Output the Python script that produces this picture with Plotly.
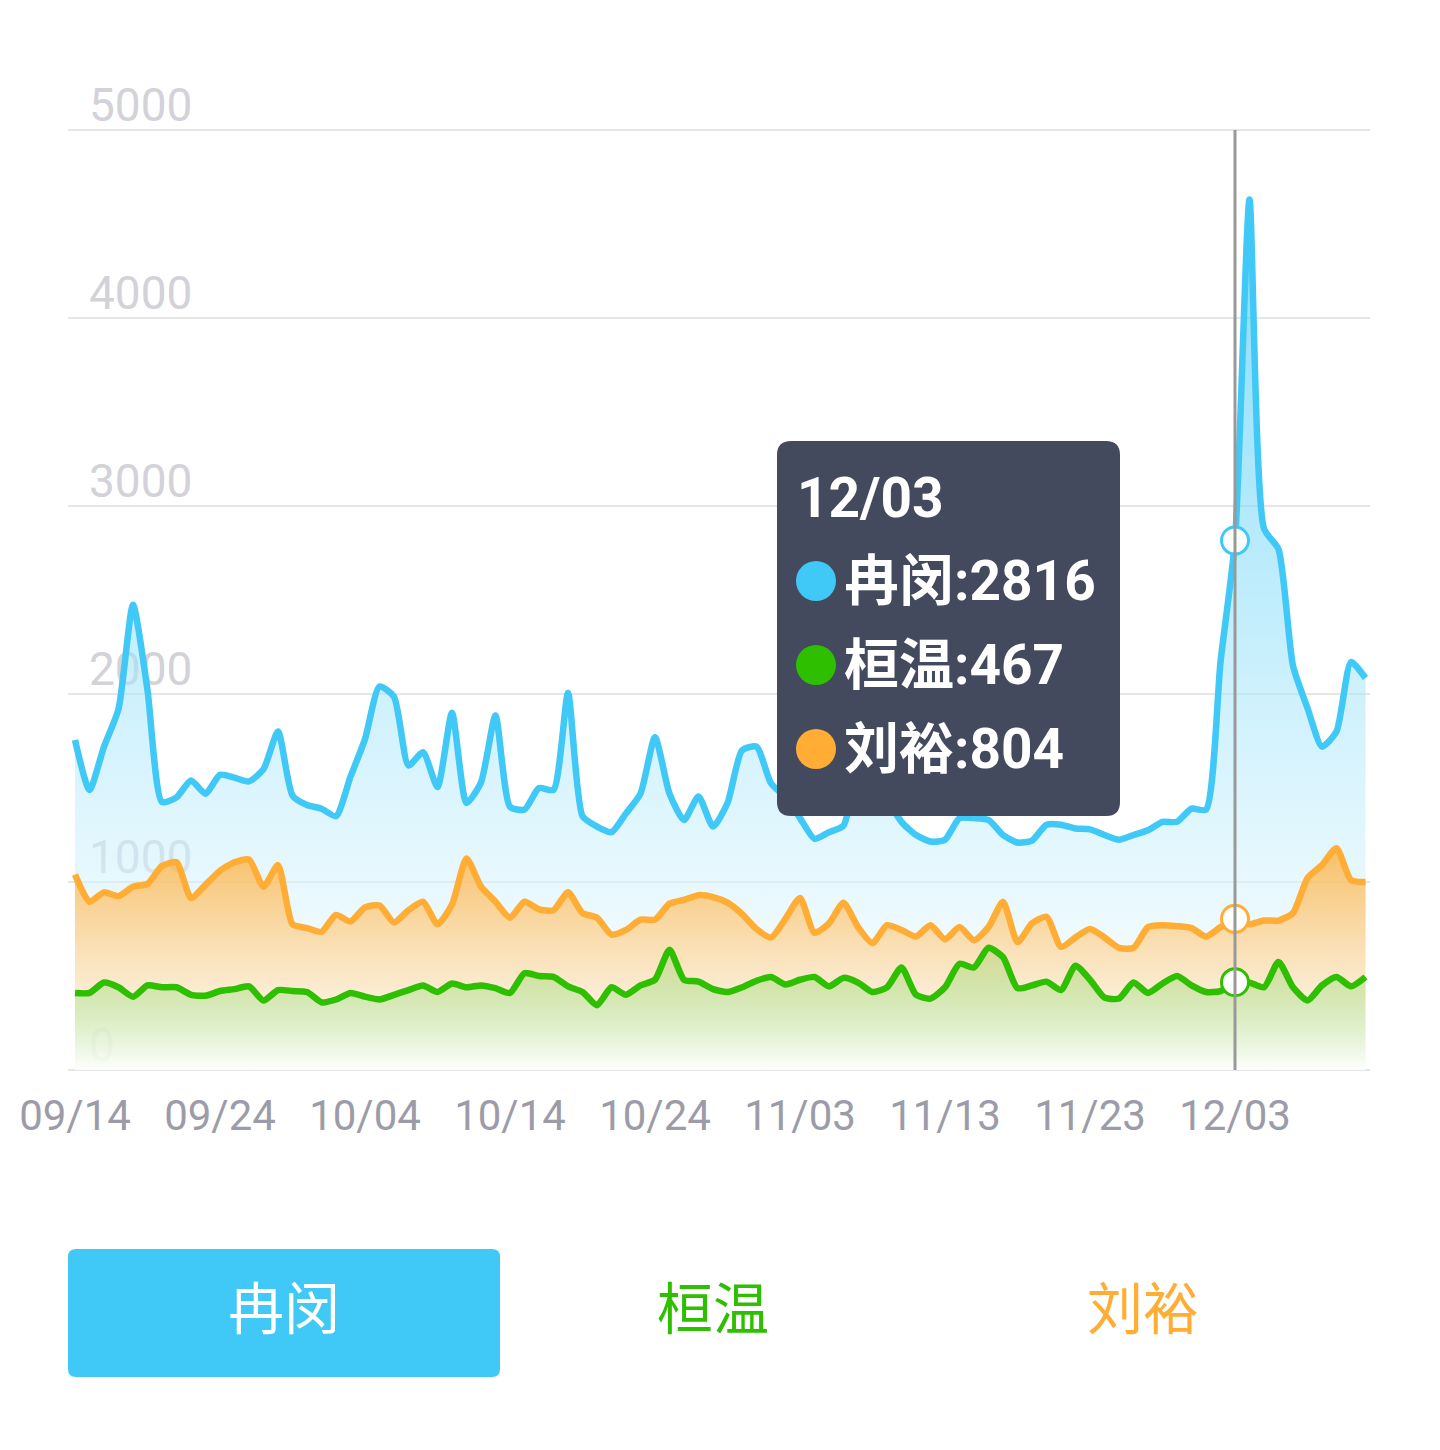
import pandas as pd
import plotly.graph_objects as go

# ---------------- data ----------------
start_date = "2018-09-14"
n_days = 90
dates = pd.date_range(start_date, periods=n_days, freq="D")

names = ["冉闵", "桓温", "刘裕"]

ranmin = [1755, 1490, 1720, 1920, 2475, 2020, 1425, 1450, 1540, 1470,
          1570, 1555, 1535, 1600, 1800, 1460, 1410, 1390, 1350, 1560,
          1760, 2040, 1985, 1620, 1690, 1505, 1900, 1420, 1530, 1885,
          1400, 1385, 1500, 1490, 2005, 1350, 1295, 1265, 1365, 1470,
          1770, 1470, 1330, 1455, 1295, 1420, 1700, 1720, 1525, 1450,
          1340, 1230, 1265, 1300, 1580, 1620, 1450, 1320, 1250, 1215,
          1225, 1340, 1340, 1330, 1250, 1210, 1220, 1305, 1305, 1285,
          1280, 1250, 1225, 1250, 1275, 1320, 1320, 1390, 1385, 2170,
          2816, 4630, 2880, 2770, 2150, 1925, 1720, 1800, 2170, 2085]

huanwen = [410, 410, 465, 440, 390, 450, 440, 440, 400, 395,
           420, 430, 445, 370, 425, 420, 415, 360, 375, 410,
           390, 375, 400, 425, 450, 415, 460, 440, 450, 435,
           410, 515, 500, 495, 445, 415, 345, 440, 400, 450,
           480, 640, 480, 470, 430, 415, 440, 475, 495, 455,
           480, 495, 445, 490, 465, 415, 440, 545, 400, 380,
           440, 565, 545, 650, 600, 435, 450, 470, 425, 555,
           480, 385, 380, 465, 410, 460, 500, 450, 415, 420,
           467, 465, 440, 575, 440, 370, 450, 495, 445, 495]

liuyu = [1040, 895, 945, 925, 975, 990, 1085, 1105, 915, 985,
         1060, 1105, 1120, 975, 1090, 775, 755, 735, 825, 790,
         865, 875, 785, 850, 895, 775, 880, 1125, 975, 895,
         810, 895, 855, 850, 945, 835, 810, 720, 745, 800,
         800, 885, 905, 930, 920, 890, 830, 750, 705, 805,
         915, 730, 780, 890, 760, 675, 770, 745, 710, 770,
         695, 760, 690, 760, 895, 680, 780, 815, 655, 705,
         750, 705, 650, 650, 760, 770, 765, 755, 710, 760,
         804, 775, 795, 795, 835, 1020, 1090, 1180, 1010, 1000]

y_ticks = [0, 1000, 2000, 3000, 4000, 5000]
x_tick_idx = [0, 10, 20, 30, 40, 50, 60, 70, 80]
hover_idx = 80

# ---------------- style / layout geometry ----------------
BLUE = "#40c8f6"
GREEN = "#2ebf00"
ORANGE = "#ffad35"
FONT = "Roboto, 'Noto Sans CJK SC', sans-serif"
W, H = 1440, 1450
OFF = 8                      # page body margin
PL, PR, PT, PB = 68, 1370, 128, 1072
Y_TOP_PX, Y_BOT_PX = 130, 1070
X0_PX, DAY_PX = 75, 14.5

px_per_unit = (Y_BOT_PX - Y_TOP_PX) / y_ticks[-1]
y_range = [(Y_BOT_PX - PB) / px_per_unit, (Y_BOT_PX - PT) / px_per_unit]
x_range = [dates[0] + pd.Timedelta(days=(PL - X0_PX) / DAY_PX),
           dates[-1] + pd.Timedelta(days=(PR - (X0_PX + DAY_PX * (n_days - 1))) / DAY_PX)]


def px(x):
    return (x - PL) / (PR - PL)


def py(y):
    return (PB - y) / (PB - PT)


def rrect(x0, y0, x1, y1, r):
    pts = [
        f"M {px(x0 + r)},{py(y0)}",
        f"L {px(x1 - r)},{py(y0)}",
        f"Q {px(x1)},{py(y0)} {px(x1)},{py(y0 + r)}",
        f"L {px(x1)},{py(y1 - r)}",
        f"Q {px(x1)},{py(y1)} {px(x1 - r)},{py(y1)}",
        f"L {px(x0 + r)},{py(y1)}",
        f"Q {px(x0)},{py(y1)} {px(x0)},{py(y1 - r)}",
        f"L {px(x0)},{py(y0 + r)}",
        f"Q {px(x0)},{py(y0)} {px(x0 + r)},{py(y0)}",
        "Z",
    ]
    return " ".join(pts)


def rgba(hexc, a):
    h = hexc.lstrip("#")
    r, g, b = int(h[0:2], 16), int(h[2:4], 16), int(h[4:6], 16)
    return f"rgba({r},{g},{b},{a})"


fig = go.Figure()

# (name, values, colour, top alpha, bottom white alpha)
series = [
    (names[0], ranmin, BLUE, 0.65, 0.55),
    (names[2], liuyu, ORANGE, 0.75, 0.55),
    (names[1], huanwen, GREEN, 0.16, 0.55),
]

for name, vals, col, a, wa in series:
    fig.add_trace(go.Scatter(
        x=dates, y=vals, name=name, mode="lines",
        line=dict(color=col, width=6.5, shape="spline", smoothing=0.6),
        fill="tozeroy",
        fillgradient=dict(
            type="vertical",
            colorscale=[[0, f"rgba(255,255,255,{wa})"], [1, rgba(col, a)]],
        ),
        hoverinfo="skip",
    ))

for name, vals, col, a, wa in series:
    fig.add_trace(go.Scatter(
        x=[dates[hover_idx]], y=[vals[hover_idx]], mode="markers",
        marker=dict(size=27, color="white", line=dict(color=col, width=3)),
        hoverinfo="skip", showlegend=False,
    ))

shapes = []
shapes.append(dict(type="line", xref="x", yref="y",
                   x0=dates[hover_idx], x1=dates[hover_idx], y0=y_ticks[0], y1=y_ticks[-1],
                   line=dict(color="#999999", width=3), layer="above"))
shapes.append(dict(type="path", xref="paper", yref="paper",
                   path=rrect(777, 441, 1120, 816, 14),
                   fillcolor="#434a5d", line=dict(width=0), layer="above"))
dot_cols = [BLUE, GREEN, ORANGE]
row_y = [581, 665, 749]
for c, yy in zip(dot_cols, row_y):
    shapes.append(dict(type="circle", xref="paper", yref="paper",
                       x0=px(796), x1=px(836), y0=py(yy - 20), y1=py(yy + 20),
                       fillcolor=c, line=dict(width=0), layer="above"))
shapes.append(dict(type="path", xref="paper", yref="paper",
                   path=rrect(68, 1249, 500, 1377, 8),
                   fillcolor="#40c8f6", line=dict(width=0), layer="above"))

annotations = []
annotations.append(dict(xref="paper", yref="paper", x=px(795), y=py(498),
                        xanchor="left", yanchor="middle", showarrow=False,
                        text="<b>" + dates[hover_idx].strftime("%m/%d") + "</b>",
                        font=dict(family=FONT, size=55, color="white")))
row_vals = [ranmin[hover_idx], huanwen[hover_idx], liuyu[hover_idx]]
for nm, v, yy in zip(names, row_vals, row_y):
    annotations.append(dict(xref="paper", yref="paper", x=px(842), y=py(yy),
                            xanchor="left", yanchor="middle", showarrow=False,
                            text=f"<b>{nm}:{v}</b>",
                            font=dict(family=FONT, size=55, color="white")))
btn_x = [284, 713, 1143]
btn_col = ["white", GREEN, ORANGE]
for nm, bx, bc in zip(names, btn_x, btn_col):
    annotations.append(dict(xref="paper", yref="paper", x=px(bx), y=py(1310),
                            xanchor="center", yanchor="middle", showarrow=False,
                            text=nm, font=dict(family=FONT, size=56, color=bc)))

fig.update_layout(
    width=W, height=H,
    margin=dict(l=PL - OFF, r=W - (PR - OFF), t=PT - OFF, b=H - (PB - OFF), pad=0),
    paper_bgcolor="white", plot_bgcolor="white",
    showlegend=False, hovermode=False,
    font=dict(family=FONT),
    xaxis=dict(
        type="date", range=x_range,
        tickvals=[dates[i] for i in x_tick_idx],
        ticktext=[dates[i].strftime("%m/%d") for i in x_tick_idx],
        showgrid=False, zeroline=False, showline=False,
        ticks="", ticklabelstandoff=15, ticklabeloverflow="allow",
        tickfont=dict(family=FONT, size=42, color="#9c9ca8"),
        fixedrange=True,
    ),
    yaxis=dict(
        range=y_range, tickvals=y_ticks,
        showgrid=True, gridcolor="#e6e6e6", gridwidth=2,
        zeroline=False, showline=False, ticks="",
        ticklabelposition="inside", ticklabelstandoff=18, ticklabelshift=-25,
        ticklabeloverflow="allow",
        layer="below traces",
        tickfont=dict(family=FONT, size=46, color="#d2d2d8"),
        fixedrange=True,
    ),
    shapes=shapes,
    annotations=annotations,
)

fig.write_html("out.html", config={"displayModeBar": False})
